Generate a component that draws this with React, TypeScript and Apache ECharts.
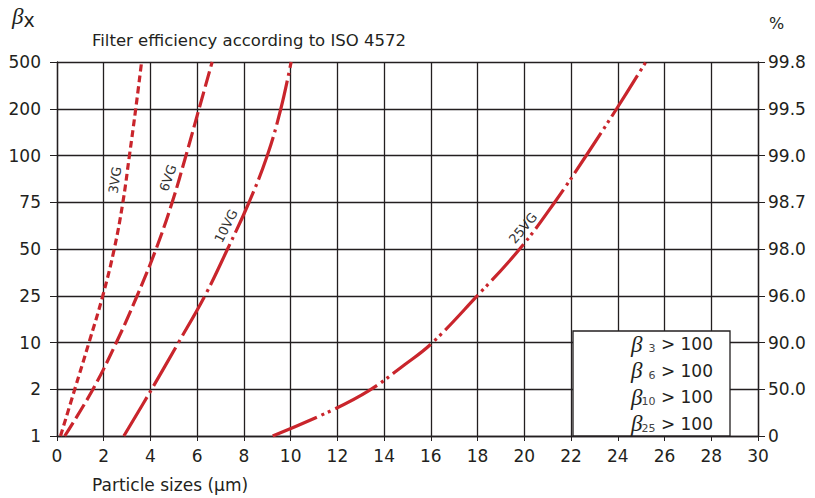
import React, { useEffect, useRef } from "react";
import * as echarts from "echarts";

// Left axis tick labels (beta ratio) and right axis (efficiency %), equally spaced levels
const betaLabels = ["1", "2", "10", "25", "50", "75", "100", "200", "500"];
const effLabels = ["0", "50.0", "90.0", "96.0", "98.0", "98.7", "99.0", "99.5", "99.8"];
const levels = [0, 1, 2, 3, 4, 5, 6, 7, 8];

// particle size (µm) at which each curve reaches each beta level
const size3VG = [0.15, 0.76, 1.37, 1.96, 2.45, 2.82, 3.1, 3.37, 3.62];
const size6VG = [0.33, 1.54, 2.54, 3.43, 4.24, 4.93, 5.52, 6.08, 6.64];
const size10VG = [2.86, 4.05, 5.2, 6.33, 7.3, 8.22, 9.0, 9.58, 10.02];
// 25VG read at finer level positions
const size25VG = [9.23, 11.68, 13.35, 14.89, 16.03, 17.93, 19.8, 21.3, 22.65, 23.95, 25.2];
const level25VG = [0, 0.53, 0.97, 1.53, 1.98, 2.97, 4, 5, 6, 7, 8];

const legendRows = [
  { sub: "3", val: "> 100" },
  { sub: "6", val: "> 100" },
  { sub: "10", val: "> 100" },
  { sub: "25", val: "> 100" },
];

const RED = "#c9252c";
const INK = "#231f20";
const FONT = "DejaVu Sans";

export default function App() {
  const ref = useRef<HTMLDivElement>(null);
  useEffect(() => {
    document.body.style.margin = "0";
    const chart = echarts.init(ref.current!, null, { renderer: "svg" });
    const mk = (xs: number[], ls: number[]) => xs.map((x, i) => [x, ls[i]]);
    const lineSeries = (name: string, xs: number[], ls: number[], dash: number[]) => ({
      name,
      type: "line",
      data: mk(xs, ls),
      smooth: 0.4,
      showSymbol: false,
      lineStyle: { color: RED, width: 3.2, type: dash, cap: "butt" },
      z: 5,
    });
    const tickLabel = { fontFamily: FONT, fontSize: 17, color: INK };
    const vgText = (text: string, x: number, y: number, deg: number) => ({
      type: "text",
      x,
      y,
      rotation: (deg * Math.PI) / 180,
      style: { text, fontFamily: FONT, fontSize: 13, fill: "#333", align: "center", verticalAlign: "middle" },
    });
    chart.setOption({
      animation: false,
      grid: { left: 57, right: 57, top: 62, bottom: 62 },
      xAxis: {
        type: "value",
        min: 0,
        max: 30,
        interval: 2,
        axisLine: { show: true, lineStyle: { color: INK, width: 1.3 } },
        axisTick: { show: true, length: 5, lineStyle: { color: INK } },
        axisLabel: { ...tickLabel, margin: 11 },
        splitLine: { show: true, lineStyle: { color: INK, width: 1.3 } },
      },
      yAxis: [
        {
          type: "value",
          min: 0,
          max: 8,
          interval: 1,
          position: "left",
          axisLine: { show: true, lineStyle: { color: INK, width: 1.3 } },
          axisTick: { show: true, length: 7, lineStyle: { color: INK } },
          axisLabel: {
            ...tickLabel,
            margin: 16,
            formatter: (v: number) => betaLabels[Math.round(v)] ?? "",
          },
          splitLine: { show: true, lineStyle: { color: INK, width: 1.3 } },
        },
        {
          type: "value",
          min: 0,
          max: 8,
          interval: 1,
          position: "right",
          axisLine: { show: true, lineStyle: { color: INK, width: 1.3 } },
          axisTick: { show: true, length: 7, lineStyle: { color: INK } },
          axisLabel: {
            ...tickLabel,
            margin: 10,
            formatter: (v: number) => effLabels[Math.round(v)] ?? "",
          },
          splitLine: { show: false },
        },
      ],
      series: [
        lineSeries("3VG", size3VG, levels, [7, 4]),
        lineSeries("6VG", size6VG, levels, [16, 5]),
        lineSeries("10VG", size10VG, levels, [45, 5, 3, 5]),
        lineSeries("25VG", size25VG, level25VG, [48, 5, 3, 4, 3, 5]),
      ],
      graphic: [
        {
          type: "text",
          left: 12,
          top: 5,
          style: {
            text: "{b|β}{x|x}",
            rich: {
              b: { fontFamily: "Liberation Serif", fontStyle: "italic", fontSize: 23, fill: INK },
              x: { fontFamily: FONT, fontSize: 19, fill: INK, padding: [7, 0, 0, 0] },
            },
          },
        },
        {
          type: "text",
          left: 92,
          top: 32,
          style: { text: "Filter efficiency according to ISO 4572", fontFamily: FONT, fontSize: 16.5, fill: INK },
        },
        {
          type: "text",
          left: 769,
          top: 15,
          style: { text: "%", fontFamily: FONT, fontSize: 16, fill: INK },
        },
        {
          type: "text",
          left: 92,
          top: 476,
          style: { text: "Particle sizes (µm)", fontFamily: FONT, fontSize: 17, fill: INK },
        },
        vgText("3VG", 115, 180, 82),
        vgText("6VG", 168, 178, 71),
        vgText("10VG", 226, 226, 63),
        vgText("25VG", 523, 228, 50),
        {
          type: "rect",
          shape: { x: 573, y: 331, width: 157, height: 105 },
          style: { fill: "#ffffff", stroke: INK, lineWidth: 1.3 },
          z: 10,
        },
        ...legendRows.map((r, i) => ({
          type: "text",
          x: 713,
          y: 344 + i * 26.5,
          z: 11,
          style: {
            text: `{b|β}{s|${r.sub}}{t| ${r.val}}`,
            align: "right",
            verticalAlign: "middle",
            rich: {
              b: { fontFamily: "Liberation Serif", fontStyle: "italic", fontSize: 23, fill: INK },
              s: { fontFamily: FONT, fontSize: 11, fill: "#444", width: 13, align: "right", padding: [9, 0, 0, 0] },
              t: { fontFamily: FONT, fontSize: 17, fill: INK },
            },
          },
        })),
      ],
    });
    return () => chart.dispose();
  }, []);
  return <div ref={ref} style={{ width: 815, height: 498 }} />;
}
